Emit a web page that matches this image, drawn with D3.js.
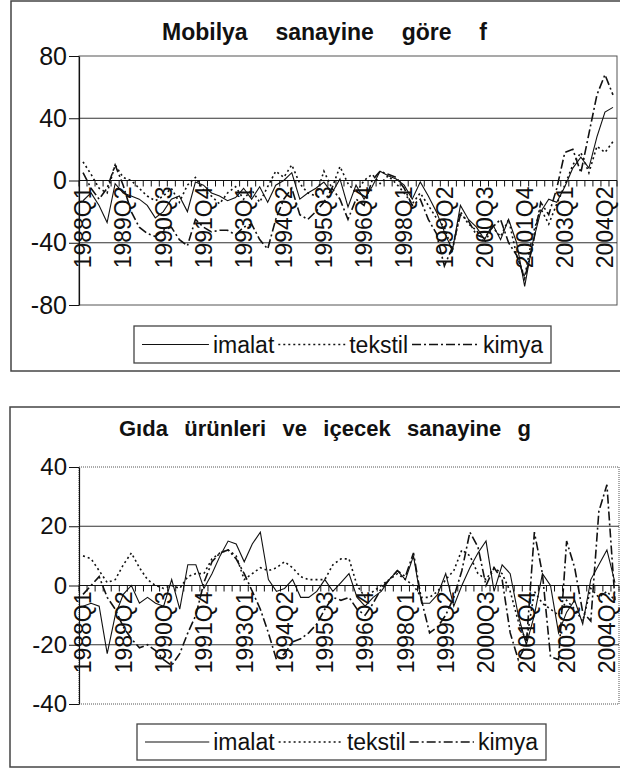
<!DOCTYPE html>
<html>
<head>
<meta charset="utf-8">
<script src="https://cdn.jsdelivr.net/npm/d3@7"></script>
<style>
  body { margin: 0; background: #fff; }
  svg { display: block; }
  text { font-family: "Liberation Sans", Arial, sans-serif; fill: #111; }
</style>
</head>
<body>
<div id="chart"></div>
<script>
// quarters 1988Q1 .. 2004Q3 (67 categories)
const quarters = [];
for (let yr = 1988; yr <= 2004; yr++) for (let q = 1; q <= 4; q++) quarters.push(yr + "Q" + q);
quarters.splice(67);

const seriesNames = ["imalat", "tekstil", "kimya"];

//========== Mobilya ==========
const mobilyaImalat = [-13,-8,-16,-27,-2,-8,-10,-12,-16,-24,-20,-12,-10,-20,-1,-3,-8,-10,-13,-11,
  -5,-12,-4,-14,-3,0,5,-12,-8,-5,-1,-8,1,-17,-3,-12,-4,6,3,1,
  -3,-12,-1,-10,-20,-33,-45,-16,-25,-30,-38,-28,-38,-25,-40,-68,-40,-20,-12,-14,
  -4,8,15,8,28,44,47];
const mobilyaTekstil = [12,4,-5,-8,10,2,0,-5,-10,-13,-10,-5,-14,-3,2,-6,-10,-15,-8,-4,
  -12,-6,-14,-4,6,2,10,-2,-8,-10,6,-5,9,-2,-8,0,4,-2,3,-2,
  -8,-15,-8,-16,-24,-30,-45,-20,-28,-32,-40,-30,-36,-25,-48,-62,-35,-18,-28,-15,
  -3,10,18,5,22,18,25];
const mobilyaKimya = [5,-5,-12,-5,10,-3,-20,-30,-34,-36,-32,-30,-38,-42,-25,-30,-33,-32,-32,-35,
  -30,-28,-38,-44,-25,-12,-5,-22,-25,-20,-14,-5,-12,-25,-12,-16,0,6,4,2,
  -5,-16,-12,-25,-34,-55,-43,-22,-26,-35,-37,-30,-25,-40,-48,-63,-42,-14,-22,-5,
  18,20,5,30,55,68,55];
const mobilyaTicks = [80, 40, 0, -40, -80];

//========== Gida ==========
const gidaImalat = [-7,-6,-7,-23,-10,-3,0,-6,-4,-6,-7,2,-8,7,7,-1,4,10,15,14,
  8,14,18,2,-2,-1,2,-4,-4,-2,2,-2,1,4,-4,-7,-4,-2,2,5,
  2,10,-6,-6,-3,4,-7,0,6,11,15,-2,7,4,-10,-20,-10,4,0,-16,
  -9,-5,-13,2,7,12,1];
const gidaTekstil = [10,9,5,1,2,7,11,6,2,0,-1,0,-1,3,4,4,9,11,12,10,
  2,4,6,5,6,8,6,3,2,2,2,7,9,9,0,-4,-2,0,2,4,
  2,0,-4,-4,-2,2,5,12,10,4,2,6,4,-2,-12,-19,-2,-6,-8,-10,
  -5,-8,-12,-1,-4,-2,-5];
const gidaKimya = [-3,0,3,-4,-8,-14,-18,-21,-20,-22,-25,-27,-23,-16,-10,1,8,11,12,9,
  4,-2,-8,-16,-25,-23,-19,-18,-16,-13,-8,-4,-5,-4,-8,-10,-6,-1,2,5,
  3,11,-5,-16,-14,-10,-4,5,18,13,0,6,2,-16,-25,-20,18,4,-24,-25,
  15,6,-9,-12,25,34,-5];
const gidaTicks = [40, 20, 0, -20, -40];

const dashes = { imalat: null, tekstil: "2,3", kimya: "9,3,2,3" };

const svg = d3.select("#chart").append("svg")
  .attr("width", 620)
  .attr("height", 770);

function drawChart(cfg) {
  const g = svg.append("g");

  // outer frame
  g.append("rect")
    .attr("x", cfg.box[0]).attr("y", cfg.box[1])
    .attr("width", cfg.box[2]).attr("height", cfg.box[3])
    .attr("fill", "#fff").attr("stroke", "#444").attr("stroke-width", 1.5);

  const x = d3.scaleBand().domain(quarters).range([cfg.left, cfg.right]);
  const y = d3.scaleLinear().domain(cfg.domain).range([cfg.bottom, cfg.top]);
  const cx = d => x(d) + x.bandwidth() / 2;

  // plot area border
  g.append("rect")
    .attr("x", cfg.left).attr("y", cfg.top)
    .attr("width", cfg.right - cfg.left).attr("height", cfg.bottom - cfg.top)
    .attr("fill", "none").attr("stroke", "#555").attr("stroke-width", 1)
    .attr("stroke-dasharray", cfg.dottedBorder ? "1,1" : null);

  // gridlines
  g.selectAll(".grid").data(cfg.grid).enter().append("line")
    .attr("x1", cfg.left).attr("x2", cfg.right)
    .attr("y1", d => y(d)).attr("y2", d => y(d))
    .attr("stroke", "#333").attr("stroke-width", 1.1);

  // y axis
  const yAxis = g.append("g")
    .attr("transform", "translate(" + cfg.left + ",0)")
    .call(d3.axisLeft(y).tickValues(cfg.ticks).tickFormat(d => String(d))
      .tickSize(10).tickSizeOuter(0).tickPadding(2));
  yAxis.select(".domain").attr("stroke", "#111").attr("stroke-width", 1.2);
  yAxis.selectAll(".tick line").attr("stroke", "#111");
  yAxis.selectAll("text").style("font-size", cfg.tickFont + "px")
    .style("font-family", '"Liberation Sans", Arial, sans-serif').attr("fill", "#111");

  // x axis at zero
  const y0 = y(0);
  g.append("line")
    .attr("x1", cfg.left).attr("x2", cfg.right)
    .attr("y1", y0).attr("y2", y0)
    .attr("stroke", "#111").attr("stroke-width", 1.2);
  const bounds = quarters.map(q => x(q)).concat([cfg.right]);
  g.selectAll(".xtick").data(bounds).enter().append("line")
    .attr("x1", d => d).attr("x2", d => d)
    .attr("y1", y0).attr("y2", y0 + 6)
    .attr("stroke", "#111").attr("stroke-width", 1);

  // series lines
  const line = d3.line().x((d, i) => cx(quarters[i])).y(d => y(d));
  cfg.series.forEach((vals, k) => {
    g.append("path")
      .datum(vals)
      .attr("d", line)
      .attr("fill", "none")
      .attr("stroke", "#111")
      .attr("stroke-width", k === 0 ? 1.1 : 1.6)
      .attr("stroke-dasharray", dashes[seriesNames[k]]);
  });

  // category labels, every fifth quarter, rotated
  const labels = quarters.filter((q, i) => i % 5 === 0);
  g.selectAll(".xlabel").data(labels).enter().append("text")
    .attr("transform", d => "translate(" + cx(d) + "," + (y0 + 6) + ") rotate(-90)")
    .attr("text-anchor", "end")
    .attr("dy", "0.36em")
    .style("font-size", cfg.xFont + "px")
    .text(d => d);

  // title, spread to measured width
  const title = g.append("text")
    .attr("x", cfg.titleSpan[0]).attr("y", cfg.titleY)
    .style("font-size", cfg.titleFont + "px")
    .style("font-weight", "bold")
    .text(cfg.title);
  const nSpaces = cfg.title.split(" ").length - 1;
  const natural = title.node().getComputedTextLength();
  const target = cfg.titleSpan[1] - cfg.titleSpan[0];
  title.style("word-spacing", ((target - natural) / nSpaces) + "px");

  // legend
  const lb = cfg.legend;
  g.append("rect")
    .attr("x", lb[0]).attr("y", lb[1]).attr("width", lb[2]).attr("height", lb[3])
    .attr("fill", "#fff").attr("stroke", "#444").attr("stroke-width", 1.3);
  const ly = lb[1] + lb[3] / 2;
  const pad = 8, gap = 4;
  const texts = seriesNames.map(n => g.append("text")
    .attr("y", ly).attr("dy", "0.36em")
    .style("font-size", cfg.legendFont + "px").text(n));
  const tw = texts.map(t => t.node().getComputedTextLength());
  const sample = (lb[2] - 2 * pad - d3.sum(tw) - gap * 5) / 3;
  let lx = lb[0] + pad;
  seriesNames.forEach((n, k) => {
    g.append("line")
      .attr("x1", lx).attr("x2", lx + sample)
      .attr("y1", ly).attr("y2", ly)
      .attr("stroke", "#111").attr("stroke-width", k === 0 ? 1.1 : 1.6)
      .attr("stroke-dasharray", dashes[n]);
    lx += sample + gap;
    texts[k].attr("x", lx);
    lx += tw[k] + gap;
  });
}

drawChart({
  box: [11, 1, 640, 370],
  left: 79, right: 617, top: 56, bottom: 305,
  domain: [-80, 80], ticks: mobilyaTicks, grid: [40, -40],
  dottedBorder: false,
  series: [mobilyaImalat, mobilyaTekstil, mobilyaKimya],
  title: "Mobilya sanayine göre f", titleY: 40, titleSpan: [162, 487], titleFont: 23,
  tickFont: 25, xFont: 23,
  legend: [134, 326, 417, 37], legendFont: 23
});

drawChart({
  box: [10, 407, 640, 360],
  left: 79, right: 619, top: 467, bottom: 704,
  domain: [-40, 40], ticks: gidaTicks, grid: [20, -20],
  dottedBorder: true,
  series: [gidaImalat, gidaTekstil, gidaKimya],
  title: "Gıda ürünleri ve içecek sanayine g", titleY: 436, titleSpan: [119, 531], titleFont: 22,
  tickFont: 24, xFont: 23,
  legend: [137, 724, 409, 36], legendFont: 23
});
</script>
</body>
</html>
